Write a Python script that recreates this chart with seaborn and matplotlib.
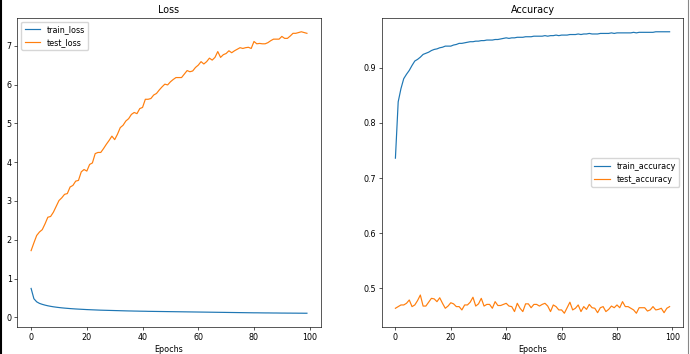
import numpy as np
import matplotlib
matplotlib.use("Agg")
import matplotlib.pyplot as plt
import seaborn as sns
from matplotlib.lines import Line2D

epochs = list(range(100))

train_loss = [0.745, 0.48, 0.40, 0.36, 0.335, 0.315, 0.298, 0.284, 0.272, 0.262,
              0.253, 0.245, 0.238, 0.232, 0.226, 0.221, 0.216, 0.212, 0.208, 0.204,
              0.200, 0.197, 0.194, 0.191, 0.188, 0.185, 0.183, 0.181, 0.179, 0.177,
              0.175, 0.173, 0.171, 0.169, 0.167, 0.165, 0.164, 0.162, 0.161, 0.159,
              0.158, 0.157, 0.155, 0.154, 0.153, 0.152, 0.151, 0.150, 0.149, 0.148,
              0.147, 0.146, 0.145, 0.144, 0.143, 0.142, 0.141, 0.140, 0.139, 0.138,
              0.137, 0.136, 0.135, 0.134, 0.133, 0.132, 0.131, 0.130, 0.129, 0.128,
              0.127, 0.126, 0.125, 0.124, 0.123, 0.122, 0.121, 0.120, 0.119, 0.118,
              0.117, 0.117, 0.116, 0.115, 0.114, 0.114, 0.113, 0.112, 0.112, 0.111,
              0.110, 0.110, 0.109, 0.109, 0.108, 0.108, 0.107, 0.107, 0.106, 0.106]

test_loss = [1.72, 1.92, 2.11, 2.20, 2.26, 2.41, 2.58, 2.60, 2.71, 2.86,
             3.01, 3.08, 3.17, 3.19, 3.36, 3.40, 3.51, 3.53, 3.75, 3.81,
             3.77, 3.94, 3.98, 4.22, 4.25, 4.25, 4.35, 4.46, 4.56, 4.67,
             4.58, 4.72, 4.89, 4.95, 5.06, 5.12, 5.23, 5.28, 5.25, 5.38,
             5.41, 5.62, 5.62, 5.64, 5.73, 5.77, 5.86, 5.94, 6.01, 5.99,
             6.07, 6.13, 6.18, 6.18, 6.18, 6.27, 6.36, 6.33, 6.35, 6.44,
             6.50, 6.59, 6.53, 6.59, 6.68, 6.63, 6.70, 6.85, 6.70, 6.77,
             6.80, 6.87, 6.82, 6.87, 6.91, 6.95, 6.93, 6.95, 6.96, 6.93,
             7.11, 7.05, 7.06, 7.05, 7.05, 7.08, 7.13, 7.17, 7.17, 7.17,
             7.24, 7.19, 7.19, 7.25, 7.32, 7.32, 7.34, 7.36, 7.34, 7.32]

train_accuracy = [0.736, 0.838, 0.862, 0.880, 0.888, 0.895, 0.904, 0.912, 0.915, 0.919,
                  0.924, 0.926, 0.928, 0.931, 0.933, 0.934, 0.936, 0.937, 0.939, 0.939,
                  0.939, 0.941, 0.942, 0.944, 0.944, 0.945, 0.946, 0.947, 0.947, 0.948,
                  0.948, 0.949, 0.949, 0.950, 0.950, 0.950, 0.951, 0.951, 0.952, 0.953,
                  0.954, 0.953, 0.954, 0.954, 0.955, 0.955, 0.955, 0.956, 0.956, 0.956,
                  0.957, 0.957, 0.957, 0.957, 0.958, 0.957, 0.958, 0.958, 0.959, 0.958,
                  0.959, 0.959, 0.959, 0.960, 0.960, 0.960, 0.961, 0.960, 0.961, 0.961,
                  0.962, 0.961, 0.961, 0.961, 0.962, 0.962, 0.962, 0.962, 0.963, 0.962,
                  0.963, 0.963, 0.963, 0.963, 0.963, 0.963, 0.964, 0.963, 0.964, 0.964,
                  0.964, 0.964, 0.964, 0.964, 0.965, 0.965, 0.965, 0.965, 0.965, 0.965]

test_accuracy = [0.464, 0.467, 0.470, 0.470, 0.473, 0.479, 0.467, 0.470, 0.478, 0.488,
                 0.468, 0.468, 0.475, 0.482, 0.481, 0.476, 0.483, 0.473, 0.464, 0.468,
                 0.474, 0.472, 0.467, 0.467, 0.461, 0.470, 0.470, 0.475, 0.484, 0.468,
                 0.472, 0.482, 0.468, 0.471, 0.471, 0.464, 0.476, 0.469, 0.469, 0.471,
                 0.473, 0.468, 0.467, 0.458, 0.473, 0.464, 0.458, 0.472, 0.472, 0.465,
                 0.471, 0.471, 0.468, 0.471, 0.473, 0.468, 0.458, 0.470, 0.467, 0.461,
                 0.461, 0.455, 0.465, 0.475, 0.461, 0.464, 0.470, 0.458, 0.467, 0.462,
                 0.471, 0.465, 0.464, 0.456, 0.465, 0.467, 0.458, 0.462, 0.468, 0.465,
                 0.470, 0.465, 0.476, 0.467, 0.467, 0.464, 0.461, 0.455, 0.465, 0.465,
                 0.465, 0.459, 0.461, 0.467, 0.461, 0.462, 0.464, 0.456, 0.464, 0.467]

s = 0.575
plt.rcParams.update({
    "font.size": 10 * s,
    "axes.linewidth": 0.8 * s,
    "xtick.major.width": 0.8 * s,
    "ytick.major.width": 0.8 * s,
    "xtick.major.size": 3.5 * s,
    "ytick.major.size": 3.5 * s,
    "xtick.major.pad": 3.5 * s,
    "ytick.major.pad": 3.5 * s,
    "axes.titlepad": 6 * s,
    "axes.labelpad": 4 * s,
    "legend.fontsize": 10 * s,
})
plt.rcParams["font.family"] = ["DejaVu Sans"]

fig = plt.figure(figsize=(6.9, 3.54), dpi=100)
ax1 = fig.add_axes([0.0251, 0.0754, 0.4397, 0.8746])
ax2 = fig.add_axes([0.5532, 0.0754, 0.4371, 0.8746])

c1, c2 = "#1f77b4", "#ff7f0e"
lw = 1.5 * s
sns.lineplot(x=epochs, y=train_loss, ax=ax1, color=c1, label="train_loss", linewidth=lw)
sns.lineplot(x=epochs, y=test_loss, ax=ax1, color=c2, label="test_loss", linewidth=lw)
ax1.set_title("Loss", fontsize=12 * s)
ax1.set_xlabel("Epochs")
ax1.set_xticks([0, 20, 40, 60, 80, 100])
ax1.legend(loc="upper left")

sns.lineplot(x=epochs, y=train_accuracy, ax=ax2, color=c1, label="train_accuracy", linewidth=lw)
sns.lineplot(x=epochs, y=test_accuracy, ax=ax2, color=c2, label="test_accuracy", linewidth=lw)
ax2.set_title("Accuracy", fontsize=12 * s)
ax2.set_xlabel("Epochs")
ax2.set_xticks([0, 20, 40, 60, 80, 100])
ax2.legend(loc="center right")

# screenshot frame edges
fig.add_artist(Line2D([0.0015, 0.0015], [0, 1], transform=fig.transFigure, color="black", linewidth=1.5))
fig.add_artist(Line2D([0.9965, 0.9965], [0, 1], transform=fig.transFigure, color="#888888", linewidth=0.8))

fig.savefig("out.png", dpi=100)
